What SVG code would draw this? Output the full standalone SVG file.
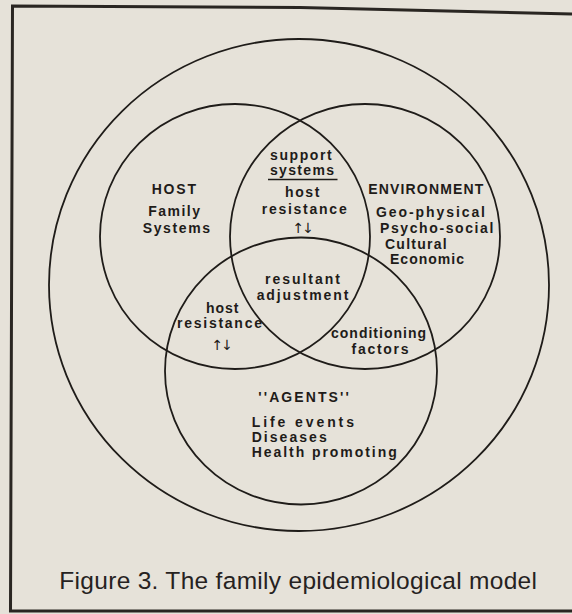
<svg xmlns="http://www.w3.org/2000/svg" width="572" height="614" viewBox="0 0 572 614">
<style>
.ring{fill:none;stroke:#1f1c19;stroke-width:1.8}
.lbl{font-family:"Liberation Sans",Arial,Helvetica,sans-serif;font-weight:bold;font-size:14px;fill:#1f1c19}
.cap{font-family:"Liberation Sans",Arial,Helvetica,sans-serif;font-size:24.5px;fill:#26221f}
.arr{font-family:"DejaVu Sans",sans-serif;font-size:14px;fill:#1f1c19;text-anchor:middle;letter-spacing:-2px}
</style>
<rect width="572" height="614" fill="#e6e2d9"/>
<path id="frame" d="M572,14 L300,7.5 L12.5,6 L10.5,611 L572,611" fill="none" stroke="#2a2622" stroke-width="3"/>
<g id="family-context">
<ellipse class="ring" cx="299" cy="285" rx="250" ry="246"/>
</g>
<g id="host">
<ellipse class="ring" cx="235" cy="236.5" rx="135" ry="132.5"/>
<text class="lbl" x="151.7" y="194" textLength="44.3" lengthAdjust="spacing">HOST</text>
<text class="lbl" x="148.3" y="215.7" textLength="51.7" lengthAdjust="spacing">Family</text>
<text class="lbl" x="142.7" y="232.7" textLength="67.3" lengthAdjust="spacing">Systems</text>
</g>
<g id="environment">
<ellipse class="ring" cx="365" cy="236.5" rx="135" ry="132.5"/>
<text class="lbl" x="368.3" y="194" textLength="115" lengthAdjust="spacing">ENVIRONMENT</text>
<text class="lbl" x="376" y="216.7" textLength="109" lengthAdjust="spacing">Geo-physical</text>
<text class="lbl" x="380" y="233" textLength="113.3" lengthAdjust="spacing">Psycho-social</text>
<text class="lbl" x="385" y="249" textLength="61.7" lengthAdjust="spacing">Cultural</text>
<text class="lbl" x="390" y="263.5" textLength="74" lengthAdjust="spacing">Economic</text>
</g>
<g id="agents">
<ellipse class="ring" cx="301" cy="371" rx="136" ry="133.5"/>
<text class="lbl" x="258.3" y="402.2" textLength="90.5" lengthAdjust="spacing">''AGENTS''</text>
<text class="lbl" x="251.7" y="426.7" textLength="102.3" lengthAdjust="spacing">Life  events</text>
<text class="lbl" x="251.7" y="441.7" textLength="75" lengthAdjust="spacing">Diseases</text>
<text class="lbl" x="251.7" y="456.7" textLength="145" lengthAdjust="spacing">Health promoting</text>
</g>
<g id="host-environment-overlap">
<text class="lbl" x="270" y="160" textLength="61.7" lengthAdjust="spacing">support</text>
<text class="lbl" x="270" y="174.5" textLength="64" lengthAdjust="spacing">systems</text>
<line x1="268" y1="179.5" x2="337.5" y2="179.5" stroke="#1f1c19" stroke-width="1.6"/>
<text class="lbl" x="285" y="197" textLength="34.3" lengthAdjust="spacing">host</text>
<text class="lbl" x="261.7" y="214" textLength="85" lengthAdjust="spacing">resistance</text>
<text class="arr" x="302.3" y="233">↑↓</text>
</g>
<g id="host-agents-overlap">
<text class="lbl" x="206" y="313.3" textLength="32.5" lengthAdjust="spacing">host</text>
<text class="lbl" x="177" y="328.3" textLength="85" lengthAdjust="spacing">resistance</text>
<text class="arr" x="221.2" y="350.3">↑↓</text>
</g>
<g id="centre-overlap">
<text class="lbl" x="265" y="284" textLength="75" lengthAdjust="spacing">resultant</text>
<text class="lbl" x="256.7" y="299.5" textLength="91.6" lengthAdjust="spacing">adjustment</text>
</g>
<g id="environment-agents-overlap">
<text class="lbl" x="331" y="337.6" textLength="95" lengthAdjust="spacing">conditioning</text>
<text class="lbl" x="351.5" y="353.6" textLength="57" lengthAdjust="spacing">factors</text>
</g>
<g id="connectors"/>
<text class="cap" x="59.3" y="589" textLength="477.7" lengthAdjust="spacing">Figure 3. The family epidemiological model</text>
</svg>
